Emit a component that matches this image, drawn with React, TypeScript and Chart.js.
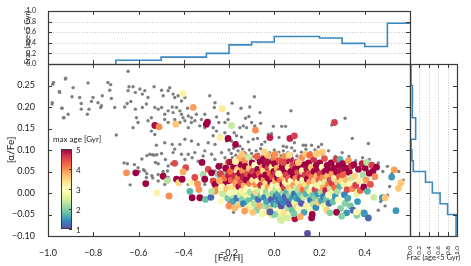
import { useEffect, useRef } from 'react';
import { Chart, registerables } from 'chart.js';
Chart.register(...registerables);

const W = 471;
const H = 266;

// ---------- data ----------
const feTicks = [-1.0, -0.8, -0.6, -0.4, -0.2, 0.0, 0.2, 0.4, 0.6];
const alphaTicks = [-0.1, -0.05, 0.0, 0.05, 0.1, 0.15, 0.2, 0.25, 0.3];
const fracTicks = [0.0, 0.2, 0.4, 0.6, 0.8, 1.0];
const fracGrid = [0.2, 0.4, 0.6, 0.8];
const ageTicks = [1, 2, 3, 4, 5];
const fracLabel = 'Frac (age<5 Gyr)';

// top histogram: fraction of young stars per [Fe/H] bin
const feBinEdges = [-0.7, -0.5, -0.3, -0.2, -0.1, 0.0, 0.2, 0.3, 0.4, 0.5, 0.6];
const feFrac = [0.07, 0.13, 0.2, 0.36, 0.415, 0.52, 0.49, 0.39, 0.33, 0.77];

// right histogram: fraction of young stars per [alpha/Fe] bin
const alphaBinEdges = [-0.1, -0.05, -0.025, 0.0, 0.025, 0.05, 0.075, 0.1, 0.125, 0.175, 0.25, 0.3];
const alphaFrac = [0.98, 0.8, 0.64, 0.475, 0.33, 0.07, 0.04, 0.02, 0.12, 0.05, 0.02];

// full sample (grey): [Fe/H], [alpha/Fe]
const allStars: [number, number][] = [
  [-0.646, 0.283], [-0.923, 0.265], [-0.948, 0.234], [-0.979, 0.253], [-0.889, 0.245], [-0.823, 0.256],
  [-0.735, 0.257], [-0.723, 0.252], [-0.727, 0.239], [-0.86, 0.222], [-0.894, 0.224], [-0.853, 0.208],
  [-0.801, 0.222], [-0.76, 0.226], [-0.72, 0.22], [-0.779, 0.21], [-0.808, 0.213], [-0.642, 0.247],
  [-0.646, 0.238], [-0.624, 0.247], [-0.614, 0.234], [-0.594, 0.242], [-0.583, 0.23], [-0.572, 0.238],
  [-0.558, 0.222], [-0.531, 0.247], [-0.498, 0.239], [-0.491, 0.226], [-0.469, 0.238], [-0.462, 0.245],
  [-0.447, 0.23], [-0.425, 0.226], [-0.44, 0.222], [-0.41, 0.214], [-0.395, 0.222], [-0.982, 0.207],
  [-0.938, 0.197], [-0.853, 0.195], [-0.819, 0.195], [-0.764, 0.203], [-0.767, 0.199], [-0.705, 0.199],
  [-0.661, 0.2], [-0.65, 0.208], [-0.634, 0.213], [-0.614, 0.195], [-0.583, 0.199], [-0.565, 0.207],
  [-0.543, 0.175], [-0.528, 0.199], [-0.513, 0.195], [-0.498, 0.199], [-0.484, 0.183], [-0.469, 0.191],
  [-0.451, 0.2], [-0.447, 0.187], [-0.432, 0.199], [-0.417, 0.191], [-0.41, 0.183], [-0.403, 0.175],
  [-0.383, 0.197], [-0.38, 0.179], [-0.366, 0.175], [-0.351, 0.168], [-0.344, 0.183], [-0.322, 0.171],
  [-0.307, 0.183], [-0.285, 0.226], [-0.262, 0.21], [-0.265, 0.199], [-0.255, 0.177], [-0.245, 0.164],
  [-0.218, 0.164], [-0.204, 0.171], [-0.911, 0.183], [-0.826, 0.183], [-0.929, 0.175], [-0.609, 0.175],
  [-0.602, 0.164], [-0.558, 0.168], [-0.484, 0.171], [-0.469, 0.164], [-0.44, 0.171], [-0.417, 0.164],
  [-0.395, 0.168], [-0.38, 0.152], [-0.366, 0.164], [-0.329, 0.156], [-0.307, 0.152], [-0.27, 0.152],
  [-0.255, 0.144], [-0.24, 0.133], [-0.218, 0.14], [-0.624, 0.152], [-0.543, 0.144], [-0.528, 0.136],
  [-0.698, 0.135], [-0.521, 0.111], [-0.484, 0.117], [-0.451, 0.113], [-0.417, 0.113], [-0.395, 0.125],
  [-0.366, 0.121], [-0.336, 0.113], [-0.292, 0.117], [-0.262, 0.113], [-0.211, 0.121], [-0.27, 0.133],
  [-0.922, 0.267], [-0.976, 0.257], [-0.981, 0.21], [-0.939, 0.197], [-0.932, 0.175], [-0.95, 0.236],
  [-0.664, 0.07], [-0.649, 0.068], [-0.618, 0.066], [-0.578, 0.054], [-0.597, 0.05], [-0.563, 0.045],
  [-0.541, 0.04], [-0.537, 0.035], [-0.637, 0.019], [-0.585, 0.079], [-0.563, 0.087], [-0.538, 0.089],
  [-0.519, 0.089], [-0.55, 0.09], [-0.531, 0.088], [-0.525, 0.071], [-0.513, 0.068], [-0.498, 0.092],
  [-0.481, 0.078], [-0.469, 0.063], [-0.454, 0.068], [-0.447, 0.094], [-0.44, 0.102], [-0.41, 0.09],
  [-0.395, 0.078], [-0.38, 0.09], [-0.363, 0.082], [-0.351, 0.094], [-0.336, 0.074], [-0.314, 0.086],
  [-0.307, 0.098], [-0.277, 0.09], [-0.262, 0.078], [-0.233, 0.094], [-0.218, 0.082], [-0.513, 0.043],
  [-0.491, 0.05], [-0.472, 0.051], [-0.572, 0.051], [-0.602, 0.059], [-0.565, 0.036], [-0.513, 0.028],
  [-0.484, 0.02], [-0.469, 0.036], [-0.425, 0.032], [-0.38, 0.02], [-0.351, 0.028], [-0.307, 0.02],
  [-0.248, 0.02], [-0.233, -0.003], [-0.204, -0.03], [-0.292, 0.059], [-0.262, 0.051], [-0.233, 0.067],
  [-0.204, 0.059],
  [-0.088, 0.224], [-0.186, 0.209], [-0.147, 0.197], [-0.108, 0.2], [-0.063, 0.187], [-0.204, 0.185],
  [-0.127, 0.174], [-0.112, 0.178], [-0.1, 0.164], [-0.086, 0.156], [-0.06, 0.162], [-0.152, 0.152],
  [-0.137, 0.156], [-0.122, 0.152], [-0.177, 0.14], [-0.167, 0.133], [-0.145, 0.13], [-0.189, 0.121],
  [-0.152, 0.109], [-0.115, 0.119], [-0.093, 0.125], [-0.074, 0.127], [-0.056, 0.113], [-0.041, 0.119],
  [-0.026, 0.136], [-0.012, 0.138], [-0.004, 0.155], [0.033, 0.155], [0.05, 0.155], [0.074, 0.191],
  [0.021, 0.129], [0.04, 0.109], [0.055, 0.107], [0.077, 0.105], [0.089, 0.117], [0.128, 0.111],
  [0.139, 0.111], [0.165, 0.111], [0.195, 0.107], [0.209, 0.113], [0.254, 0.158], [0.313, 0.174],
  [0.345, 0.127], [0.416, 0.115],
  [-0.2, 0.1], [-0.19, 0.092], [-0.18, 0.104], [-0.17, 0.088], [-0.16, 0.098], [-0.15, 0.085],
  [-0.14, 0.102], [-0.13, 0.094], [-0.12, 0.088], [-0.11, 0.1], [-0.1, 0.092], [-0.09, 0.085],
  [-0.08, 0.098], [-0.07, 0.09], [-0.06, 0.103], [-0.05, 0.087], [-0.04, 0.097], [-0.03, 0.082],
  [-0.02, 0.094], [-0.01, 0.088], [0.0, 0.1], [0.01, 0.082], [0.02, 0.095], [0.03, 0.087],
  [0.04, 0.098], [0.05, 0.085], [0.06, 0.094], [0.075, 0.09], [0.09, 0.098], [0.1, 0.086],
  [0.12, 0.095], [0.14, 0.102], [0.16, 0.094], [0.18, 0.1], [0.21, 0.09], [0.24, 0.098],
  [0.27, 0.085], [0.3, 0.094], [0.33, 0.085], [0.36, 0.075], [0.39, 0.082], [0.42, 0.078],
  [0.46, 0.07], [0.5, 0.062], [0.48, 0.05], [0.52, 0.045], [0.47, -0.02], [0.49, -0.03],
  [0.5, -0.005], [0.46, -0.04], [0.51, 0.015], [-0.195, 0.075], [-0.185, 0.082], [-0.165, 0.077],
  [-0.135, 0.079], [-0.105, 0.08], [-0.075, 0.078], [-0.045, 0.075], [-0.015, 0.077], [0.015, 0.072],
  [0.045, 0.075], [-0.2, -0.02], [-0.18, -0.045], [0.55, 0.05], [0.57, 0.03],
];

// young-star candidates: [Fe/H], [alpha/Fe], max age [Gyr]
const youngStars: [number, number, number][] = [
  [-0.403, 0.231, 3.2], [-0.358, 0.199, 3.9], [-0.23, 0.196, 3.3], [-0.528, 0.157, 4.9], [-0.509, 0.154, 4.0],
  [-0.435, 0.16, 3.6], [-0.295, 0.165, 5], [-0.3, 0.16, 5], [-0.24, 0.129, 3.2], [-0.204, 0.127, 5],
  [-0.189, 0.157, 2.4], [-0.083, 0.146, 4.0], [-0.171, 0.113, 5], [-0.019, 0.129, 4.8], [0.069, 0.127, 4.8],
  [0.089, 0.133, 4.6], [0.266, 0.164, 4.6],
  [-0.653, 0.047, 4.0], [-0.612, 0.047, 5], [-0.568, 0.022, 5], [-0.519, 0.0005, 3.2], [-0.491, 0.039, 5],
  [-0.472, 0.029, 2.3], [-0.44, 0.069, 4.5], [-0.432, 0.032, 5], [-0.422, 0.024, 3.5], [-0.407, 0.032, 5],
  [-0.465, -0.007, 4.0], [-0.391, 0.059, 4.5], [-0.403, 0.049, 3.8], [-0.373, 0.004, 1.7], [-0.366, 0.024, 3.1],
  [-0.363, -0.011, 5], [-0.351, 0.036, 4.5], [-0.339, 0.021, 4.0], [-0.333, 0.008, 4.0], [-0.329, -0.011, 5],
  [-0.319, 0.071, 5], [-0.314, 0.043, 2.2], [-0.307, 0.032, 5], [-0.304, -0.015, 1.8], [-0.28, -0.01, 1.2],
  [-0.292, 0.055, 4.5], [-0.277, 0.047, 5], [-0.27, 0.028, 4.5], [-0.262, 0.02, 5], [-0.255, 0.008, 4.0],
  [-0.248, 0.043, 2.0], [-0.233, 0.032, 4.0], [-0.226, 0.02, 5], [-0.218, 0.004, 3.1], [-0.211, 0.051, 4.5],
  [-0.204, 0.071, 4.0], [-0.226, 0.043, 2.0], [-0.24, 0.004, 3.1], [-0.262, 0.004, 4.0], [-0.277, 0.004, 2.3],
  [-0.204, 0.028, 5], [-0.196, 0.008, 4.0],
  [-0.245, 0.062, 5], [-0.238, 0.045, 4.6], [-0.232, 0.015, 3.1], [-0.228, -0.002, 2.4], [-0.222, 0.035, 4.2],
  [-0.215, 0.058, 5], [-0.21, 0.01, 3.6], [-0.205, -0.012, 1.9], [-0.202, 0.041, 4.8], [-0.242, 0.028, 3.8],
  [-0.236, -0.018, 2.9],
  [-0.197, 0.072, 4.9], [-0.193, 0.05, 4.2], [-0.19, 0.03, 4.3], [-0.188, 0.012, 3.4], [-0.185, -0.005, 2.2],
  [-0.183, -0.02, 1.6], [-0.18, 0.062, 5], [-0.176, 0.04, 4.7], [-0.172, 0.074, 3.2], [-0.17, 0.022, 3.9],
  [-0.168, 0.003, 2.8], [-0.165, -0.012, 1.3], [-0.162, 0.055, 3.5], [-0.16, 0.035, 4.1], [-0.157, 0.015, 4.9],
  [-0.155, -0.028, 3.6], [-0.153, 0.081, 3.8], [-0.2, -0.03, 4.0], [-0.175, -0.035, 3.7], [-0.152, 0.046, 5],
  [-0.15, -0.005, 2.5], [-0.195, 0.0, 2.9],
  [-0.148, 0.066, 5], [-0.146, 0.025, 4.5], [-0.144, 0.005, 3.2], [-0.142, -0.015, 2.0], [-0.14, 0.052, 4.0],
  [-0.138, 0.038, 4.8], [-0.136, -0.025, 1.4], [-0.133, 0.017, 3.8], [-0.13, 0.075, 4.0], [-0.128, 0.062, 5],
  [-0.126, -0.004, 2.6], [-0.124, 0.03, 5], [-0.122, 0.01, 3.0], [-0.12, -0.035, 3.4], [-0.118, 0.045, 4.4],
  [-0.115, 0.083, 2.4], [-0.113, -0.018, 1.8], [-0.11, 0.058, 3.6], [-0.108, 0.022, 4.1], [-0.106, 0.002, 2.2],
  [-0.104, 0.04, 5], [-0.102, -0.028, 2.7], [-0.143, 0.09, 3.6], [-0.131, -0.042, 3.9],
  [-0.098, 0.07, 5], [-0.096, 0.05, 4.6], [-0.094, 0.03, 3.3], [-0.092, 0.012, 2.9], [-0.09, -0.008, 1.7],
  [-0.088, -0.025, 2.3], [-0.086, 0.065, 3.0], [-0.084, 0.04, 4.9], [-0.082, 0.02, 4.0], [-0.08, 0.001, 3.5],
  [-0.078, -0.04, 2.0], [-0.076, 0.085, 4.3], [-0.074, 0.055, 5], [-0.072, 0.028, 3.1], [-0.07, -0.015, 1.2],
  [-0.068, 0.008, 2.5], [-0.066, 0.045, 4.4], [-0.064, -0.03, 3.8], [-0.062, 0.072, 5], [-0.06, 0.018, 4.7],
  [-0.058, -0.005, 1.9], [-0.056, 0.035, 5], [-0.054, -0.048, 2.8], [-0.052, 0.06, 3.9], [-0.05, 0.0, 3.0],
  [-0.095, -0.045, 3.6],
  [-0.049, 0.078, 5], [-0.047, 0.052, 3.4], [-0.046, 0.03, 4.0], [-0.045, 0.012, 2.7], [-0.043, -0.01, 1.4],
  [-0.042, -0.03, 2.2], [-0.04, 0.065, 5], [-0.038, 0.042, 5], [-0.037, 0.022, 3.4], [-0.035, 0.003, 2.1],
  [-0.034, -0.02, 1.6], [-0.032, -0.045, 3.3], [-0.03, 0.088, 3.7], [-0.028, 0.058, 4.6], [-0.027, 0.035, 5],
  [-0.025, 0.015, 3.9], [-0.023, -0.006, 2.4], [-0.022, -0.035, 1.9], [-0.02, 0.07, 5], [-0.018, 0.046, 4.2],
  [-0.016, 0.026, 5], [-0.015, 0.008, 3.2], [-0.013, -0.015, 1.1], [-0.011, -0.052, 2.6], [-0.01, 0.06, 2.6],
  [-0.008, 0.038, 4.5], [-0.006, 0.018, 2.9], [-0.005, -0.002, 2.0], [-0.003, -0.025, 1.5], [-0.002, 0.08, 4.1],
  [-0.001, 0.05, 5], [-0.044, 0.095, 3.5], [-0.019, -0.04, 3.6], [-0.033, 0.072, 4.9],
  [0.002, 0.068, 5], [0.004, 0.045, 4.7], [0.005, 0.028, 3.8], [0.007, 0.01, 2.3], [0.008, -0.008, 1.3],
  [0.01, -0.028, 1.8], [0.012, -0.048, 2.4], [0.013, 0.058, 3.8], [0.015, 0.035, 5], [0.016, 0.016, 3.1],
  [0.018, -0.002, 1.6], [0.02, -0.018, 1.2], [0.021, -0.04, 2.9], [0.023, 0.075, 4.4], [0.025, 0.05, 4.9],
  [0.026, 0.03, 4.2], [0.028, 0.008, 2.6], [0.03, -0.012, 1.5], [0.031, -0.03, 1.0], [0.033, -0.055, 2.6],
  [0.035, 0.062, 5], [0.036, 0.04, 3.7], [0.038, 0.02, 5], [0.04, 0.0, 2.1], [0.041, -0.022, 1.4],
  [0.043, -0.045, 3.4], [0.045, 0.085, 4.0], [0.046, 0.052, 5], [0.048, 0.025, 3.3], [0.049, -0.008, 1.1],
  [0.006, 0.09, 3.3], [0.027, -0.062, 2.4], [0.044, 0.012, 4.6], [0.019, 0.045, 2.8],
  [0.051, 0.07, 5], [0.053, 0.042, 4.6], [0.055, 0.022, 2.8], [0.056, 0.003, 1.7], [0.058, -0.016, 1.2],
  [0.06, -0.035, 2.2], [0.062, 0.06, 3.3], [0.063, 0.032, 4.3], [0.065, 0.012, 3.6], [0.067, -0.006, 2.0],
  [0.068, -0.026, 1.0], [0.07, -0.05, 3.0], [0.072, 0.078, 4.8], [0.074, 0.05, 5], [0.075, 0.028, 3.0],
  [0.077, 0.005, 2.5], [0.079, -0.014, 1.5], [0.08, -0.04, 1.8], [0.082, 0.064, 4.5], [0.084, 0.04, 5],
  [0.086, 0.018, 3.9], [0.088, -0.002, 1.3], [0.09, -0.022, 2.7], [0.091, -0.06, 4.9], [0.093, 0.055, 5],
  [0.095, 0.034, 4.1], [0.097, 0.012, 2.4], [0.098, -0.012, 1.6], [0.1, -0.032, 3.5], [0.066, 0.088, 3.4],
  [0.087, -0.048, 1.9], [0.059, -0.058, 2.5],
  [0.102, 0.072, 5], [0.104, 0.048, 4.4], [0.105, 0.026, 3.2], [0.107, 0.006, 2.2], [0.109, -0.014, 1.4],
  [0.11, -0.036, 2.9], [0.112, 0.06, 5], [0.114, 0.035, 4.8], [0.116, 0.015, 3.7], [0.118, -0.004, 1.9],
  [0.12, -0.024, 1.1], [0.122, 0.082, 4.0], [0.124, 0.052, 3.1], [0.126, 0.03, 2.7], [0.128, 0.008, 4.2],
  [0.13, -0.01, 2.4], [0.132, -0.045, 1.6], [0.134, 0.066, 5], [0.136, 0.042, 4.6], [0.138, 0.02, 3.4],
  [0.14, -0.002, 1.7], [0.142, -0.03, 3.2], [0.144, 0.056, 4.9], [0.146, 0.032, 5], [0.148, 0.01, 2.1],
  [0.147, -0.094, 1.0], [0.115, -0.055, 3.8], [0.139, 0.09, 3.6],
  [0.152, 0.07, 5], [0.154, 0.046, 4.5], [0.156, 0.025, 3.9], [0.158, 0.004, 2.6], [0.16, -0.016, 1.3],
  [0.162, -0.038, 3.1], [0.164, 0.06, 3.6], [0.166, 0.036, 4.1], [0.168, 0.014, 3.0], [0.17, -0.006, 1.8],
  [0.172, -0.026, 2.3], [0.174, 0.078, 4.7], [0.176, 0.05, 5], [0.178, 0.028, 3.5], [0.18, 0.008, 4.6],
  [0.182, -0.012, 2.0], [0.184, -0.034, 1.4], [0.186, 0.064, 5], [0.188, 0.04, 3.8], [0.19, 0.018, 2.8],
  [0.192, -0.002, 1.5], [0.194, -0.022, 3.6], [0.196, 0.054, 5], [0.198, 0.03, 4.3], [0.168, -0.05, 5],
  [0.185, 0.09, 3.3], [0.157, 0.088, 4.2],
  [0.201, 0.07, 5], [0.203, 0.045, 4.6], [0.205, 0.022, 3.2], [0.207, 0.002, 2.2], [0.209, -0.018, 1.6],
  [0.212, 0.06, 2.9], [0.214, 0.035, 4.0], [0.216, 0.012, 3.8], [0.218, -0.008, 1.3], [0.22, -0.03, 2.7],
  [0.222, 0.08, 4.4], [0.224, 0.05, 5], [0.226, 0.026, 2.5], [0.228, 0.006, 4.8], [0.23, -0.014, 1.9],
  [0.232, -0.04, 3.5], [0.234, 0.064, 5], [0.236, 0.04, 3.7], [0.238, 0.018, 4.1], [0.24, -0.004, 2.9],
  [0.242, -0.024, 1.2], [0.244, 0.052, 5], [0.246, 0.03, 4.5], [0.248, 0.01, 2.4], [0.213, 0.095, 3.6],
  [0.252, 0.07, 5], [0.254, 0.044, 3.9], [0.256, 0.022, 4.6], [0.258, 0.0, 2.7], [0.26, -0.02, 1.8],
  [0.263, 0.058, 5], [0.266, 0.034, 3.2], [0.268, 0.012, 4.2], [0.27, -0.008, 1.5], [0.273, 0.078, 4.6],
  [0.276, 0.048, 5], [0.278, 0.026, 3.6], [0.28, 0.004, 2.2], [0.283, -0.016, 3.0], [0.286, 0.064, 5],
  [0.288, 0.038, 4.4], [0.29, 0.016, 1.7], [0.293, -0.036, 2.0], [0.296, 0.052, 4.9], [0.298, 0.028, 3.4],
  [0.275, -0.045, 5], [0.291, 0.078, 1.7],
  [0.302, 0.068, 5], [0.305, 0.042, 4.3], [0.308, 0.02, 2.8], [0.31, -0.004, 1.4], [0.313, -0.024, 2.0],
  [0.316, 0.058, 5], [0.319, 0.03, 3.7], [0.322, 0.008, 4.5], [0.325, -0.012, 1.6], [0.328, 0.075, 3.9],
  [0.331, 0.048, 5], [0.334, 0.022, 3.1], [0.337, -0.03, 1.9], [0.34, 0.062, 4.7], [0.343, 0.036, 2.4],
  [0.346, 0.01, 4.0], [0.348, -0.04, 1.2],
  [0.352, 0.066, 5], [0.356, 0.04, 3.5], [0.36, 0.018, 4.6], [0.364, -0.002, 2.6], [0.368, -0.02, 1.5],
  [0.372, 0.055, 5], [0.376, 0.028, 3.2], [0.38, 0.006, 4.3], [0.384, -0.045, 3.1], [0.388, 0.068, 4.8],
  [0.392, 0.042, 2.2], [0.396, 0.014, 5], [0.398, -0.048, 1.4], [0.365, -0.052, 2.0],
  [0.402, 0.058, 5], [0.406, 0.03, 3.9], [0.409, 0.071, 2.3], [0.412, 0.004, 1.7], [0.416, -0.058, 1.2],
  [0.42, 0.046, 5], [0.425, 0.02, 4.4], [0.431, 0.065, 4.6], [0.436, 0.05, 5], [0.44, -0.01, 2.4],
  [0.445, 0.038, 4.0], [0.452, 0.06, 5],
  [0.519, 0.037, 1.5], [0.56, 0.024, 3.6], [0.549, 0.011, 3.6], [0.478, -0.011, 1.5], [0.49, -0.011, 3.6],
  [0.538, -0.041, 1.5], [0.364, -0.044, 3.1], [0.397, -0.046, 1.5], [0.32, -0.046, 1.5], [0.298, -0.054, 2.0],
  [0.246, -0.046, 2.0], [0.165, -0.058, 5], [0.032, -0.064, 2.5], [0.0, -0.05, 2.0], [-0.019, -0.044, 1.1],
  [0.003, 0.09, 4.0], [0.192, 0.092, 3.6], [-0.171, 0.073, 3.2], [0.106, 0.071, 3.6], [0.04, 0.071, 4.5],
  [0.53, 0.054, 3.9],
];

// ---------- styling helpers ----------
const SPECTRAL = ['#9e0142', '#d53e4f', '#f46d43', '#fdae61', '#fee08b', '#ffffbf', '#e6f598', '#abdda4', '#66c2a5', '#3288bd', '#5e4fa2'];
const FONT = 'Lato, "DejaVu Sans", sans-serif';
const INK = '#222';
const FRAME = '#3a3a3a';
const HIST = '#3a88c0';

function hexRgb(h: string) {
  return [parseInt(h.slice(1, 3), 16), parseInt(h.slice(3, 5), 16), parseInt(h.slice(5, 7), 16)];
}
function ageColor(age: number) {
  const s = Math.min(1, Math.max(0, (5 - age) / 4)) * (SPECTRAL.length - 1);
  const i = Math.min(SPECTRAL.length - 2, Math.floor(s));
  const f = s - i;
  const a = hexRgb(SPECTRAL[i]);
  const b = hexRgb(SPECTRAL[i + 1]);
  const c = a.map((v, k) => Math.round(v + (b[k] - v) * f));
  return `rgb(${c[0]},${c[1]},${c[2]})`;
}
const fmt = (v: number, d: number) => {
  const r = Math.abs(v) < 1e-9 ? 0 : v;
  return r.toFixed(d).replace('-', '\u2212');
};

type FrameCfg = {
  xTicks: number[];
  yTicks: number[];
  xSides: ('top' | 'bottom')[];
  ySides: ('left' | 'right')[];
  gridX?: number[];
  gridY?: number[];
};

function makeFrame(cfg: FrameCfg) {
  return {
    id: 'frame',
    beforeDatasetsDraw(chart: any) {
      const { ctx, chartArea: a, scales } = chart;
      ctx.save();
      ctx.strokeStyle = '#b8b8b8';
      ctx.lineWidth = 0.8;
      ctx.setLineDash([1, 1.6]);
      for (const v of cfg.gridY || []) {
        const y = Math.round(scales.y.getPixelForValue(v)) + 0.5;
        ctx.beginPath();
        ctx.moveTo(a.left, y);
        ctx.lineTo(a.right, y);
        ctx.stroke();
      }
      for (const v of cfg.gridX || []) {
        const x = Math.round(scales.x.getPixelForValue(v)) + 0.5;
        ctx.beginPath();
        ctx.moveTo(x, a.top);
        ctx.lineTo(x, a.bottom);
        ctx.stroke();
      }
      ctx.restore();
    },
    afterDatasetsDraw(chart: any) {
      const { ctx, chartArea: a, scales } = chart;
      const L = 4;
      ctx.save();
      ctx.strokeStyle = FRAME;
      ctx.lineWidth = 1;
      ctx.beginPath();
      for (const v of cfg.xTicks) {
        const x = Math.round(scales.x.getPixelForValue(v)) + 0.5;
        if (x <= a.left + 1 || x >= a.right - 1) continue;
        if (cfg.xSides.includes('bottom')) { ctx.moveTo(x, a.bottom); ctx.lineTo(x, a.bottom - L); }
        if (cfg.xSides.includes('top')) { ctx.moveTo(x, a.top); ctx.lineTo(x, a.top + L); }
      }
      for (const v of cfg.yTicks) {
        const y = Math.round(scales.y.getPixelForValue(v)) + 0.5;
        if (y <= a.top + 1 || y >= a.bottom - 1) continue;
        if (cfg.ySides.includes('left')) { ctx.moveTo(a.left, y); ctx.lineTo(a.left + L, y); }
        if (cfg.ySides.includes('right')) { ctx.moveTo(a.right, y); ctx.lineTo(a.right - L, y); }
      }
      ctx.stroke();
      ctx.lineWidth = 1.2;
      ctx.strokeRect(Math.round(a.left) + 0.5, Math.round(a.top) + 0.5, Math.round(a.right - a.left), Math.round(a.bottom - a.top));
      ctx.restore();
    },
  };
}

// axis caption drawn next to a chart area (so it may be longer than the axis)
function makeCaption(text: string, where: 'left' | 'bottom', offset: number) {
  return {
    id: 'caption',
    afterDraw(chart: any) {
      const { ctx, chartArea: a } = chart;
      ctx.save();
      ctx.fillStyle = INK;
      ctx.font = `7.5px ${FONT}`;
      ctx.textAlign = 'center';
      ctx.textBaseline = 'middle';
      if (where === 'left') {
        ctx.translate(a.left - offset, (a.top + a.bottom) / 2);
        ctx.rotate(-Math.PI / 2);
        ctx.fillText(text, 0, 0);
      } else {
        ctx.fillText(text, (a.left + a.right) / 2, a.bottom + offset);
      }
      ctx.restore();
    },
  };
}

const colorbarPlugin = {
  id: 'colorbar',
  afterDatasetsDraw(chart: any) {
    const { ctx, chartArea: a } = chart;
    const left = a.left + 13;
    const top = a.top + 85;
    const w = 11;
    const h = 80;
    ctx.save();
    const g = ctx.createLinearGradient(0, top, 0, top + h);
    SPECTRAL.forEach((c, i) => g.addColorStop(i / (SPECTRAL.length - 1), c));
    ctx.fillStyle = g;
    ctx.fillRect(left, top, w, h);
    ctx.strokeStyle = FRAME;
    ctx.lineWidth = 1;
    ctx.strokeRect(left + 0.5, top + 0.5, w - 1, h - 1);
    ctx.fillStyle = INK;
    ctx.font = `8px ${FONT}`;
    ctx.textBaseline = 'middle';
    ctx.textAlign = 'left';
    ctx.beginPath();
    for (const t of ageTicks) {
      const y = Math.round(top + ((5 - t) / 4) * h) + 0.5;
      ctx.moveTo(left + w - 3, y);
      ctx.lineTo(left + w, y);
      ctx.fillText(String(t), left + w + 4, y + 0.5);
    }
    ctx.stroke();
    ctx.fillText('max age [Gyr]', a.left + 5, top - 10);
    ctx.restore();
  },
};

export default function App() {
  const mainRef = useRef<HTMLCanvasElement>(null);
  const topRef = useRef<HTMLCanvasElement>(null);
  const sideRef = useRef<HTMLCanvasElement>(null);

  useEffect(() => {
    const charts: Chart[] = [];

    // main scatter
    charts.push(
      new Chart(mainRef.current!, {
        type: 'scatter',
        data: {
          datasets: [
            {
              label: 'young',
              data: youngStars.map(([x, y]) => ({ x, y })),
              pointBackgroundColor: youngStars.map((s) => ageColor(s[2])),
              pointBorderWidth: 0,
              pointRadius: 3.4,
              pointHoverRadius: 3.4,
            },
            {
              label: 'all',
              data: allStars.map(([x, y]) => ({ x, y })),
              pointBackgroundColor: '#7f7f7f',
              pointBorderWidth: 0,
              pointRadius: 1.7,
              pointHoverRadius: 1.7,
            },
          ],
        },
        options: {
          responsive: false,
          animation: false,
          events: [],
          layout: { padding: { left: 0, top: 64, right: 61, bottom: 0 } },
          plugins: { legend: { display: false }, tooltip: { enabled: false } },
          scales: {
            x: {
              type: 'linear',
              min: -1.0,
              max: 0.6,
              afterFit: (s: any) => { s.height = 30; },
              grid: { display: false },
              border: { display: false },
              ticks: {
                stepSize: 0.2,
                autoSkip: false,
                maxRotation: 0,
                padding: 4,
                color: INK,
                font: { family: FONT, size: 9 },
                callback: (v: any) => (Number(v) > 0.59 ? '' : fmt(Number(v), 1)),
              },
              title: { display: true, text: '[Fe/H]', color: INK, font: { family: FONT, size: 10 }, padding: { top: 0, bottom: 2 } },
            },
            y: {
              type: 'linear',
              min: -0.1,
              max: 0.3,
              afterFit: (s: any) => { s.width = 48; },
              grid: { display: false },
              border: { display: false },
              ticks: {
                stepSize: 0.05,
                autoSkip: false,
                padding: 5,
                color: INK,
                font: { family: FONT, size: 9 },
                callback: (v: any) => (Number(v) > 0.29 ? '' : fmt(Number(v), 2)),
              },
              title: { display: true, text: '[\u03b1/Fe]', color: INK, font: { family: FONT, size: 10 }, padding: { top: 5, bottom: 0 } },
            },
          },
        },
        plugins: [makeFrame({ xTicks: feTicks, yTicks: alphaTicks, xSides: ['top', 'bottom'], ySides: ['left', 'right'] }), colorbarPlugin],
      } as any)
    );

    // top histogram
    const topPts = [{ x: feBinEdges[0], y: 0 }].concat(
      feBinEdges.map((e, i) => ({ x: e, y: feFrac[Math.min(i, feFrac.length - 1)] }))
    );
    charts.push(
      new Chart(topRef.current!, {
        type: 'line',
        data: {
          datasets: [
            {
              data: topPts,
              borderColor: HIST,
              borderWidth: 1.6,
              pointRadius: 0,
              fill: false,
              stepped: 'before',
            },
          ],
        },
        options: {
          responsive: false,
          animation: false,
          events: [],
          layout: { padding: { left: 0, top: 11, right: 61, bottom: H - 64 } },
          plugins: { legend: { display: false }, tooltip: { enabled: false } },
          scales: {
            x: { type: 'linear', min: -1.0, max: 0.6, display: false },
            y: {
              type: 'linear',
              min: 0,
              max: 1.0,
              afterFit: (s: any) => { s.width = 48; },
              grid: { display: false },
              border: { display: false },
              ticks: {
                stepSize: 0.2,
                autoSkip: false,
                padding: 4,
                color: INK,
                font: { family: FONT, size: 7 },
                callback: (v: any) => fmt(Number(v), 1),
              },
            },
          },
        },
        plugins: [
          makeFrame({ xTicks: feTicks, yTicks: fracTicks, xSides: ['top', 'bottom'], ySides: ['left', 'right'], gridY: fracGrid }),
          makeCaption(fracLabel, 'left', 20),
        ],
      } as any)
    );

    // right histogram
    const sidePts = alphaFrac
      .map((f, i) => ({ x: f, y: alphaBinEdges[i] }))
      .concat([{ x: alphaFrac[alphaFrac.length - 1], y: alphaBinEdges[alphaBinEdges.length - 1] }]);
    charts.push(
      new Chart(sideRef.current!, {
        type: 'line',
        data: {
          datasets: [
            {
              data: sidePts,
              borderColor: HIST,
              borderWidth: 1.6,
              pointRadius: 0,
              fill: false,
              stepped: 'after',
            },
          ],
        },
        options: {
          responsive: false,
          animation: false,
          events: [],
          layout: { padding: { left: 410, top: 64, right: 14, bottom: 0 } },
          plugins: { legend: { display: false }, tooltip: { enabled: false } },
          scales: {
            x: {
              type: 'linear',
              min: 0,
              max: 1.0,
              afterFit: (s: any) => { s.height = 30; },
              grid: { display: false },
              border: { display: false },
              ticks: {
                stepSize: 0.2,
                autoSkip: false,
                minRotation: 90,
                maxRotation: 90,
                padding: 2,
                color: INK,
                font: { family: FONT, size: 6.5 },
                callback: (v: any) => fmt(Number(v), 1),
              },
            },
            y: { type: 'linear', min: -0.1, max: 0.3, display: false },
          },
        },
        plugins: [
          makeFrame({ xTicks: fracTicks, yTicks: alphaTicks, xSides: ['top', 'bottom'], ySides: ['right'], gridX: fracGrid }),
          makeCaption(fracLabel, 'bottom', 22),
        ],
      } as any)
    );

    return () => charts.forEach((c) => c.destroy());
  }, []);

  const cs: React.CSSProperties = { position: 'absolute', left: 0, top: 0, width: W, height: H };
  return (
    <div style={{ position: 'fixed', left: 0, top: 0, width: W, height: H, background: '#fff' }}>
      <canvas ref={mainRef} width={W} height={H} style={cs} />
      <canvas ref={topRef} width={W} height={H} style={cs} />
      <canvas ref={sideRef} width={W} height={H} style={cs} />
    </div>
  );
}
